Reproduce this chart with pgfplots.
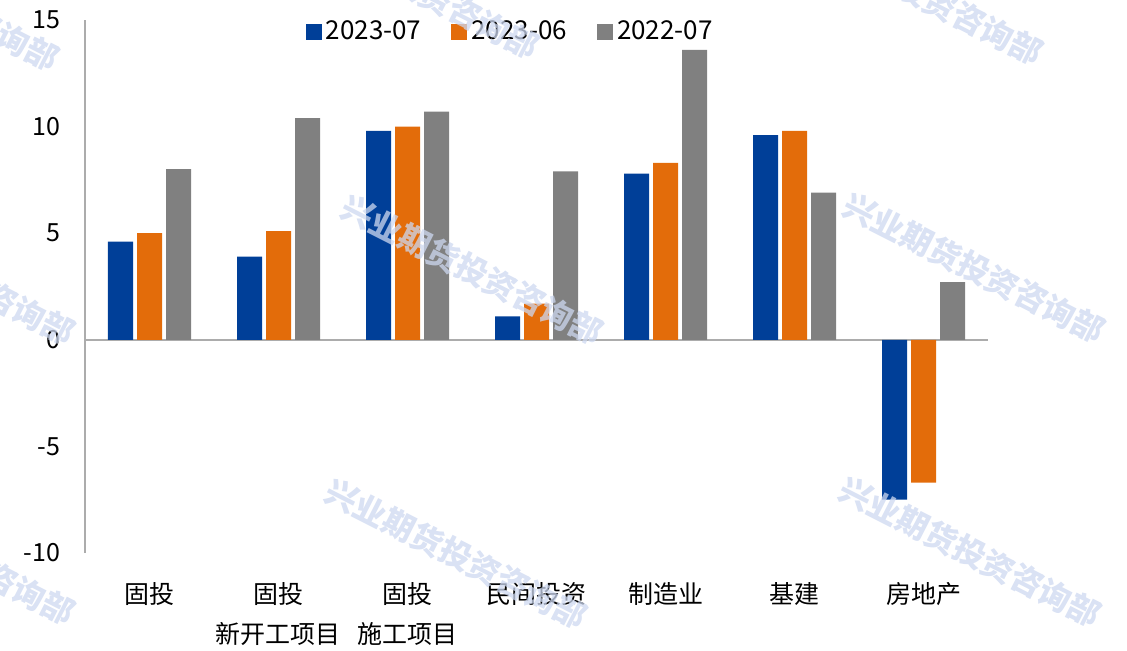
\documentclass[border=0pt]{standalone}
\usepackage{fontspec}
\setmainfont{Noto Sans CJK SC}
\usepackage{pgfplots}
\pgfplotsset{compat=1.18}
\definecolor{cblue}{RGB}{0,63,152}
\definecolor{corange}{RGB}{227,108,10}
\definecolor{cgray}{RGB}{128,128,128}
\definecolor{wmark}{RGB}{205,216,240}

\pgfplotstableread{
x a b c
0 4.6 5.0 8.0
1 3.9 5.1 10.4
2 9.8 10.0 10.7
3 1.1 1.7 7.9
4 7.8 8.3 13.6
5 9.6 9.8 6.9
6 -7.5 -6.7 2.7
}\fai

\begin{document}
\begin{tikzpicture}
\useasboundingbox (0,0) rectangle (563.5pt,325pt);
\clip (0,0) rectangle (563.5pt,325pt);
\begin{axis}[
  at={(42.5pt,48.5pt)}, anchor=south west,
  scale only axis, width=451.5pt, height=266.5pt,
  xmin=-0.5, xmax=6.5, ymin=-10, ymax=15,
  ytick={-10,-5,0,5,10,15},
  xtick=data,
  xticklabels={固投,{固投\\新开工项目},{固投\\施工项目},民间投资,制造业,基建,房地产},
  axis y line*=left,
  axis x line*=bottom,
  x axis line style={draw=none},
  y axis line style={draw=gray!65, line width=0.8pt},
  major tick length=0pt,
  extra y ticks={0}, extra y tick labels={},
  extra y tick style={grid=major, major grid style={draw=gray!65, line width=0.8pt}},
  /pgf/number format/assume math mode=true,
  tick label style={font=\fontsize{12.5}{20}\selectfont, text=black},
  yticklabel style={xshift=-9pt},
  xticklabel style={align=center, yshift=-11pt},
  ybar, bar width=12.5pt,
  legend style={draw=none, fill=none, font=\fontsize{13}{15}\selectfont,
    at={(0.472,0.978)}, anchor=center, legend columns=3,
    /tikz/every even column/.append style={column sep=13pt}},
  legend image code/.code={\fill[#1] (0pt,-4pt) rectangle (8pt,4pt);},
  clip=false,
]
\addplot[fill=cblue, draw=none, bar shift=-14.5pt] table[x=x, y=a] {\fai};
\addlegendentry{2023-07}
\addplot[fill=corange, draw=none, bar shift=0pt] table[x=x, y=b] {\fai};
\addlegendentry{2023-06}
\addplot[fill=cgray, draw=none, bar shift=14.5pt] table[x=x, y=c] {\fai};
\addlegendentry{2022-07}
\end{axis}
\begin{scope}[every node/.style={text=wmark, font=\bfseries\fontsize{16}{16}\selectfont, rotate=-27, opacity=0.75}]
\node at (236pt,190pt) {兴业期货投资咨询部};
\node at (487pt,191pt) {兴业期货投资咨询部};
\node at (228pt,48pt) {兴业期货投资咨询部};
\node at (485pt,49pt) {兴业期货投资咨询部};
\node at (204pt,333pt) {兴业期货投资咨询部};
\node at (456pt,330pt) {兴业期货投资咨询部};
\node at (-36pt,327pt) {兴业期货投资咨询部};
\node at (-28pt,190pt) {兴业期货投资咨询部};
\node at (-28pt,50pt) {兴业期货投资咨询部};
\end{scope}
\end{tikzpicture}
\end{document}
